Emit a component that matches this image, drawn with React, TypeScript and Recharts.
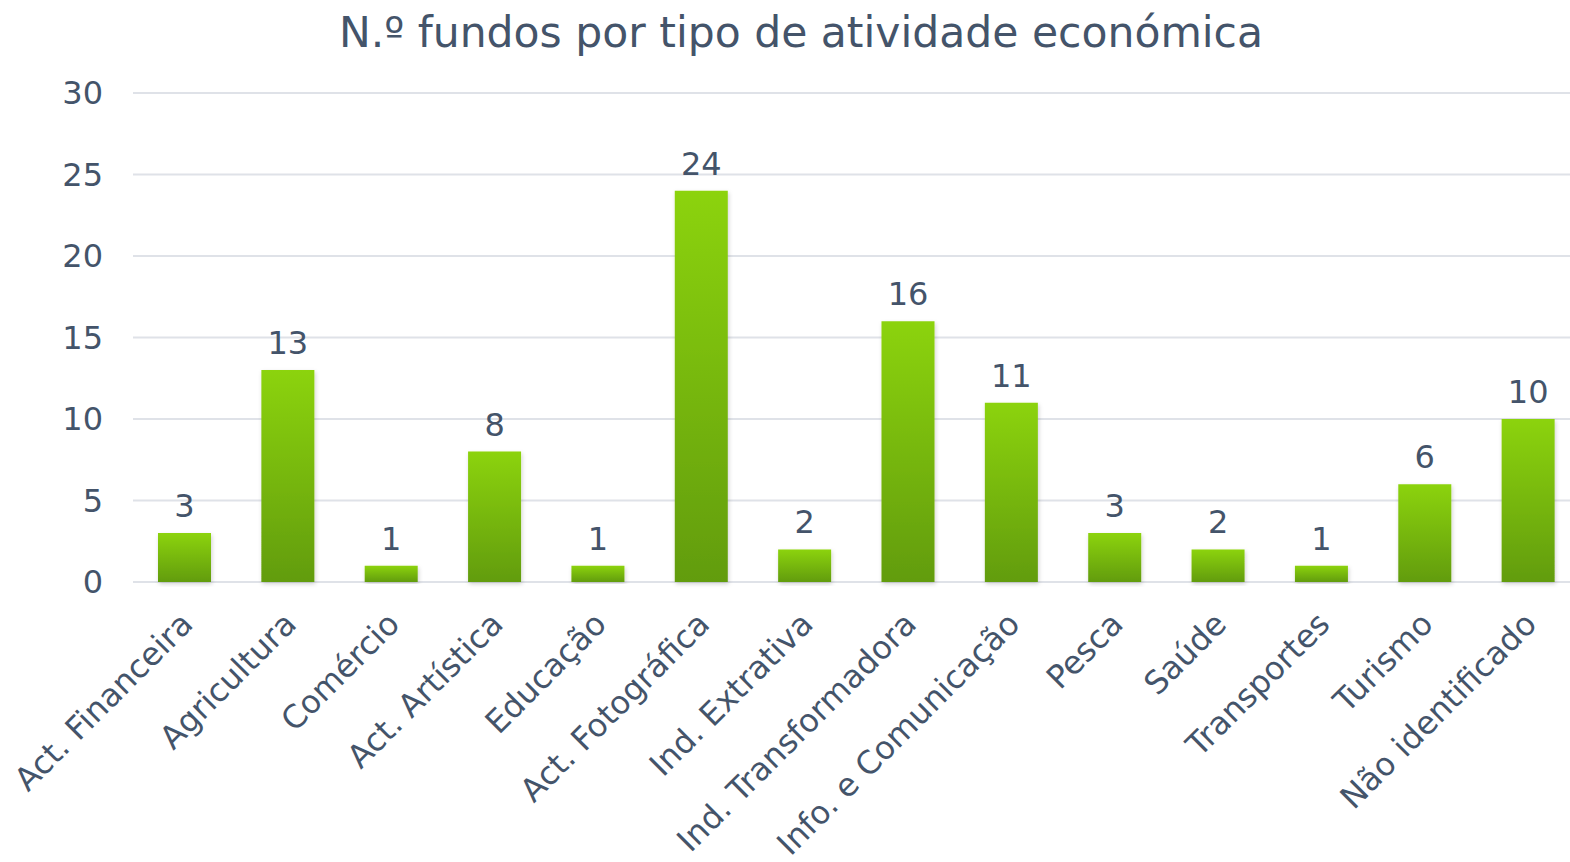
import React from 'react';
import { BarChart, Bar, XAxis, YAxis, CartesianGrid, LabelList } from 'recharts';

const categories = [
  'Act. Financeira',
  'Agricultura',
  'Comércio',
  'Act. Artística',
  'Educação',
  'Act. Fotográfica',
  'Ind. Extrativa',
  'Ind. Transformadora',
  'Info. e Comunicação',
  'Pesca',
  'Saúde',
  'Transportes',
  'Turismo',
  'Não identificado',
];
const fundos = [3, 13, 1, 8, 1, 24, 2, 16, 11, 3, 2, 1, 6, 10];
const yTicks = [0, 5, 10, 15, 20, 25, 30];

const data = categories.map((name, i) => ({ name, value: fundos[i] }));

const textColor = '#44546a';
const font = '"DejaVu Sans", Verdana, sans-serif';

const AngledTick = (props: any) => {
  const { x, y, payload } = props;
  return (
    <g transform={`translate(${x + 10},${y + 36})`}>
      <text
        x={0}
        y={0}
        textAnchor="end"
        transform="rotate(-45)"
        fill={textColor}
        fontSize={32}
        fontFamily={font}
      >
        {payload.value}
      </text>
    </g>
  );
};

export default function App() {
  return (
    <div
      style={{
        position: 'absolute',
        left: 0,
        top: 0,
        width: 1570,
        height: 862,
        overflow: 'hidden',
        background: '#fff',
        fontFamily: font,
      }}
    >
      <div
        style={{
          position: 'absolute',
          left: 0,
          top: 8,
          width: 1602,
          textAlign: 'center',
          fontSize: 42.5,
          color: textColor,
          lineHeight: '50px',
        }}
      >
        N.º fundos por tipo de atividade económica
      </div>
      <BarChart
        width={1600}
        height={862}
        data={data}
        margin={{ top: 93, right: 20, left: 0, bottom: 10 }}
        barCategoryGap={0}
      >
        <defs>
          <linearGradient id="barGreen" x1="0" y1="0" x2="0" y2="1">
            <stop offset="0%" stopColor="#8cd30c" />
            <stop offset="100%" stopColor="#629c0a" />
          </linearGradient>
          <filter id="barShadow" x="-20%" y="-5%" width="140%" height="115%">
            <feDropShadow dx="1" dy="2" stdDeviation="2" floodColor="#000" floodOpacity="0.18" />
          </filter>
        </defs>
        <CartesianGrid vertical={false} stroke="#dfe2e8" strokeWidth={2} />
        <XAxis
          dataKey="name"
          interval={0}
          axisLine={false}
          tickLine={false}
          height={270}
          tick={<AngledTick />}
        />
        <YAxis
          domain={[0, 30]}
          ticks={yTicks}
          width={133}
          axisLine={false}
          tickLine={false}
          tickSize={0}
          tickMargin={30}
          tick={{ fill: textColor, fontSize: 32, fontFamily: font }}
        />
        <Bar
          dataKey="value"
          barSize={53}
          fill="url(#barGreen)"
          filter="url(#barShadow)"
          isAnimationActive={false}
        >
          <LabelList
            dataKey="value"
            position="top"
            offset={16}
            fill={textColor}
            fontSize={32}
            fontFamily={font}
          />
        </Bar>
      </BarChart>
    </div>
  );
}
